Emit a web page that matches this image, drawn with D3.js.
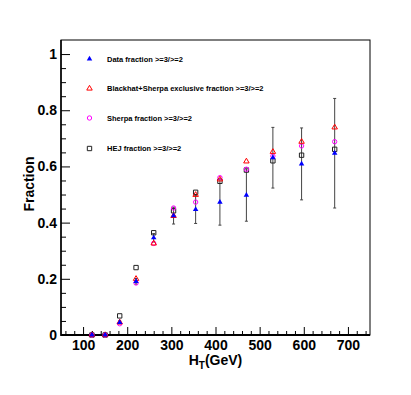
<!DOCTYPE html>
<html>
<head>
<meta charset="utf-8">
<script src="https://cdn.jsdelivr.net/npm/d3@7"></script>
<style>
  html, body { margin: 0; padding: 0; background: #fff; }
  svg { display: block; }
</style>
</head>
<body>
<script>
// ---- data ----
const htBins = [120, 150, 183, 220, 260, 305, 355, 410, 470, 530, 595, 670];
const dataFraction = [0, 0, 0.045, 0.191, 0.346, 0.425, 0.447, 0.473, 0.498, 0.631, 0.609, 0.647];
const dataError = [0, 0, 0.005, 0.01, 0.015, 0.03, 0.05, 0.082, 0.093, 0.108, 0.128, 0.195];
const blackhatFraction = [0, 0, 0.045, 0.2, 0.326, 0.424, 0.499, 0.554, 0.618, 0.652, 0.688, 0.739];
const sherpaFraction = [0, 0, 0.04, 0.185, 0.326, 0.452, 0.473, 0.56, 0.59, 0.637, 0.673, 0.688];
const hejFraction = [0, 0, 0.068, 0.24, 0.364, 0.442, 0.508, 0.547, 0.587, 0.62, 0.64, 0.661];
const xTickValues = [100, 200, 300, 400, 500, 600, 700];
const yTickValues = [0, 0.2, 0.4, 0.6, 0.8, 1];
const yTickLabels = ["0", "0.2", "0.4", "0.6", "0.8", "1"];
const legendLabels = [
  "Data fraction >=3/>=2",
  "Blackhat+Sherpa exclusive fraction >=3/>=2",
  "Sherpa fraction >=3/>=2",
  "HEJ fraction >=3/>=2"
];

const W = 411, H = 395;
const svg = d3.select("body").append("svg").attr("width", W).attr("height", H);
svg.append("rect").attr("width", W).attr("height", H).attr("fill", "#fff");

const x = d3.scaleLinear().domain([50, 750]).range([61, 370]);
const y = d3.scaleLinear().domain([0, 1.05]).range([335, 40]);

const font = "'Liberation Sans', Arial, Helvetica, sans-serif";

// frame
svg.append("rect")
  .attr("x", 61).attr("y", 40).attr("width", 309).attr("height", 295)
  .attr("fill", "none").attr("stroke", "#000").attr("stroke-width", 1);

// minor ticks
const xMinor = d3.range(60, 750, 20).filter(v => v % 100 !== 0);
const yMinor = d3.range(0, 21).map(i => i * 0.05).filter((v, i) => i % 4 !== 0 && v <= 1.05);

svg.append("g").attr("transform", "translate(0,335)")
  .call(d3.axisBottom(x).tickValues(xMinor).tickSize(-4).tickFormat(""))
  .call(g => g.select(".domain").remove());
svg.append("g").attr("transform", "translate(61,0)")
  .call(d3.axisLeft(y).tickValues(yMinor).tickSize(-5).tickFormat(""))
  .call(g => g.select(".domain").remove());

// major ticks + labels
const xAxis = svg.append("g").attr("transform", "translate(0,335)")
  .call(d3.axisBottom(x).tickValues(xTickValues).tickSize(-8).tickPadding(5).tickFormat(d3.format("d")));
xAxis.select(".domain").remove();
xAxis.selectAll("text").attr("font-family", font).attr("font-weight", "bold").attr("font-size", 14).attr("fill", "#000");

const yAxis = svg.append("g").attr("transform", "translate(61,0)")
  .call(d3.axisLeft(y).tickValues(yTickValues).tickSize(-9).tickPadding(4).tickFormat((d, i) => yTickLabels[i]));
yAxis.select(".domain").remove();
yAxis.selectAll("text").attr("font-family", font).attr("font-weight", "bold").attr("font-size", 14).attr("fill", "#000");

// axis lines
svg.append("line").attr("x1", 61).attr("x2", 370).attr("y1", 335).attr("y2", 335)
  .attr("stroke", "#000").attr("stroke-width", 2);
svg.append("line").attr("x1", 61).attr("x2", 61).attr("y1", 40).attr("y2", 336)
  .attr("stroke", "#000").attr("stroke-width", 1.5);

// axis titles
const xt = svg.append("text").attr("x", 215.5).attr("y", 365).attr("text-anchor", "middle")
  .attr("font-family", font).attr("font-weight", "bold").attr("font-size", 14).attr("fill", "#000");
xt.append("tspan").text("H");
xt.append("tspan").attr("dy", 4).attr("font-size", 10).text("T");
xt.append("tspan").attr("dy", -4).text("(GeV)");

svg.append("text").attr("transform", "translate(34,184) rotate(-90)")
  .attr("text-anchor", "middle")
  .attr("font-family", font).attr("font-weight", "bold").attr("font-size", 14).attr("fill", "#000")
  .text("Fraction");

// error bars (data)
const eb = svg.append("g").attr("stroke", "#444").attr("stroke-width", 1);
htBins.forEach((h, i) => {
  const e = dataError[i];
  if (e <= 0) return;
  const cx = x(h);
  eb.append("line").attr("x1", cx).attr("x2", cx).attr("y1", y(dataFraction[i] - e)).attr("y2", y(dataFraction[i] + e));
  eb.append("line").attr("x1", cx - 1.5).attr("x2", cx + 1.5).attr("y1", y(dataFraction[i] - e)).attr("y2", y(dataFraction[i] - e));
  eb.append("line").attr("x1", cx - 1.5).attr("x2", cx + 1.5).attr("y1", y(dataFraction[i] + e)).attr("y2", y(dataFraction[i] + e));
});

const triSym = d3.symbol().type(d3.symbolTriangle).size(13);
const circSym = d3.symbol().type(d3.symbolCircle).size(15);
const sqSym = d3.symbol().type(d3.symbolSquare).size(19);

function drawSeries(vals, sym, fill, stroke) {
  svg.append("g").selectAll("path").data(vals).join("path")
    .attr("d", sym)
    .attr("transform", (d, i) => `translate(${x(htBins[i])},${y(d)})`)
    .attr("fill", fill).attr("stroke", stroke).attr("stroke-width", 1);
}
drawSeries(hejFraction, sqSym, "none", "#222");
drawSeries(sherpaFraction, circSym, "none", "#ff00ff");
drawSeries(blackhatFraction, triSym, "none", "#ff0000");
drawSeries(dataFraction, triSym, "#0000ff", "none");

// legend
const legY = [59, 88.5, 118, 148.5];
const legSyms = [
  [triSym, "#0000ff", "none"],
  [triSym, "none", "#ff0000"],
  [circSym, "none", "#ff00ff"],
  [sqSym, "none", "#222"]
];
legendLabels.forEach((lab, i) => {
  svg.append("path").attr("d", legSyms[i][0])
    .attr("transform", `translate(89.5,${legY[i]})`)
    .attr("fill", legSyms[i][1]).attr("stroke", legSyms[i][2]).attr("stroke-width", 1);
  svg.append("text").attr("x", 107).attr("y", legY[i] + 2.5)
    .attr("font-family", font).attr("font-weight", "bold").attr("font-size", 7.5).attr("fill", "#000")
    .text(lab);
});
</script>
</body>
</html>
